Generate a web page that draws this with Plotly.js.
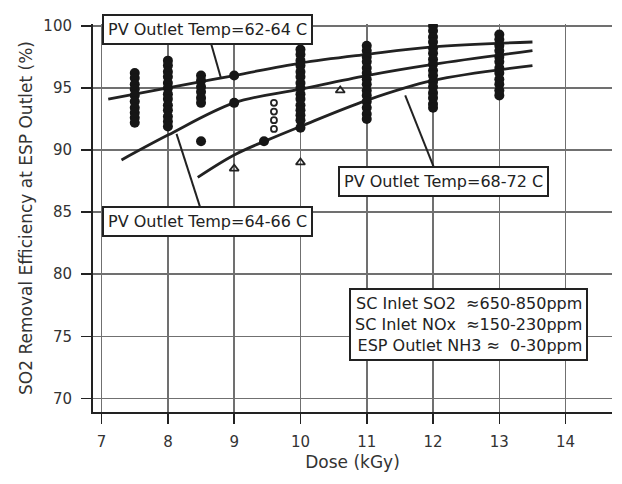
<!DOCTYPE html>
<html>
<head>
<meta charset="utf-8">
<script src="https://cdn.plot.ly/plotly-3.0.1.min.js"></script>
<style>
html,body{margin:0;padding:0;background:#fff;}
#chart{width:622px;height:484px;}
</style>
</head>
<body>
<div id="chart"></div>
<script>
// ---- data ----
// dense measurement clusters (dose kGy, efficiency %)
const cluster75 = [96.2, 95.8, 95.3, 94.9, 94.4, 93.9, 93.4, 93.0, 92.6, 92.2];
const cluster80 = [97.2, 96.8, 96.3, 95.9, 95.4, 95.0, 94.5, 94.1, 93.6, 93.2, 92.7, 92.3, 91.9];
const cluster85 = [96.0, 95.6, 95.1, 94.7, 94.2, 93.8, 90.7];
const cluster90 = [96.0, 93.8];
const cluster945 = [90.7];
const cluster100 = [98.1, 97.7, 97.2, 96.8, 96.3, 95.9, 95.4, 95.0, 94.5, 94.1, 93.6, 93.2, 92.8, 92.4, 91.8];
const cluster110 = [98.4, 98.0, 97.5, 97.1, 96.6, 96.2, 95.7, 95.3, 94.8, 94.4, 93.9, 93.4, 92.9, 92.5];
const cluster120 = [100.0, 99.6, 99.1, 98.7, 98.2, 97.8, 97.3, 96.9, 96.4, 96.0, 95.5, 95.1, 94.6, 94.2, 93.7, 93.4];
const cluster130 = [99.3, 98.9, 98.4, 98.0, 97.5, 97.1, 96.6, 96.2, 95.7, 95.3, 94.8, 94.4];
// small open points around 9.6 kGy
const openDose = [9.6, 9.6, 9.6, 9.6];
const openEff = [93.8, 93.1, 92.4, 91.7];
// open triangles
const triDose = [9.0, 10.0, 10.6];
const triEff = [88.5, 89.0, 94.8];

// fitted curves
const curve1Dose = [7.1, 8, 9, 10, 11, 12, 13.5];
const curve1Eff  = [94.1, 95.0, 96.0, 97.0, 97.7, 98.3, 98.7];
const curve2Dose = [7.3, 8, 9, 10, 11, 12, 13.5];
const curve2Eff  = [89.2, 91.2, 93.8, 94.9, 96.0, 96.9, 98.0];
const curve3Dose = [8.45, 9, 9.5, 10, 11, 12, 13.5];
const curve3Eff  = [87.8, 89.6, 90.8, 91.9, 94.0, 95.6, 96.8];

const curveLabels = ["PV Outlet Temp=62-64 C", "PV Outlet Temp=64-66 C", "PV Outlet Temp=68-72 C"];
const noteLines = ["SC Inlet SO2  ≈650-850ppm", "SC Inlet NOx  ≈150-230ppm", "ESP Outlet NH3 ≈  0-30ppm"];
const xTicks = [7, 8, 9, 10, 11, 12, 13, 14];
const yTicks = [70, 75, 80, 85, 90, 95, 100];

// build scatter arrays from the clusters
const clusters = [[7.5, cluster75], [8, cluster80], [8.5, cluster85], [9, cluster90], [9.45, cluster945],
                  [10, cluster100], [11, cluster110], [12, cluster120], [13, cluster130]];
const ptX = [], ptY = [];
clusters.forEach(([d, arr]) => arr.forEach(v => { ptX.push(d); ptY.push(v); }));

const ink = '#222';
const font = 'DejaVu Sans, Liberation Sans, sans-serif';

const traces = [
  {x: curve1Dose, y: curve1Eff, mode: 'lines', line: {color: ink, width: 2.8, shape: 'spline'}, hoverinfo: 'skip'},
  {x: curve2Dose, y: curve2Eff, mode: 'lines', line: {color: ink, width: 2.8, shape: 'spline'}, hoverinfo: 'skip'},
  {x: curve3Dose, y: curve3Eff, mode: 'lines', line: {color: ink, width: 2.8, shape: 'spline'}, hoverinfo: 'skip'},
  {x: ptX, y: ptY, mode: 'markers', marker: {symbol: 'circle', size: 10, color: '#161616'}},
  {x: openDose, y: openEff, mode: 'markers', marker: {symbol: 'circle-open', size: 6, color: ink, line: {width: 1.8}}},
  {x: triDose, y: triEff, mode: 'markers', marker: {symbol: 'triangle-up-open', size: 8, color: ink, line: {width: 1.8}}}
];

const boxStyle = {showarrow: false, bgcolor: '#fff', bordercolor: ink, borderwidth: 2, borderpad: 4,
                  font: {family: font, size: 16, color: ink}, xref: 'x', yref: 'y'};

const layout = {
  width: 622, height: 484,
  margin: {l: 93, r: 10, t: 24, b: 72},
  paper_bgcolor: '#fff', plot_bgcolor: '#fff',
  showlegend: false,
  xaxis: {
    range: [6.87, 14.7], tickvals: xTicks, ticktext: xTicks.map(String),
    showgrid: true, gridcolor: '#707070', gridwidth: 1.5, zeroline: false,
    showline: true, linecolor: ink, linewidth: 2,
    ticks: 'outside', ticklen: 10, tickwidth: 1.5, tickcolor: ink, ticklabelstandoff: 5,
    tickfont: {family: font, size: 15, color: '#333'},
    title: {text: 'Dose (kGy)', font: {family: font, size: 17, color: '#333'}, standoff: 6}
  },
  yaxis: {
    range: [68.9, 100.15], tickvals: yTicks, ticktext: yTicks.map(String),
    showgrid: true, gridcolor: '#707070', gridwidth: 1.5, zeroline: false,
    showline: true, linecolor: ink, linewidth: 2,
    ticks: 'outside', ticklen: 10, tickwidth: 1.5, tickcolor: ink, ticklabelstandoff: 6,
    tickfont: {family: font, size: 15, color: '#333'},
    title: {text: 'SO2 Removal Efficiency at ESP Outlet (%)', font: {family: font, size: 17, color: '#333'}, standoff: 6}
  },
  annotations: [
    Object.assign({}, boxStyle, {x: 8.6, y: 99.7, text: curveLabels[0]}),
    Object.assign({}, boxStyle, {x: 8.6, y: 84.27, text: curveLabels[1]}),
    Object.assign({}, boxStyle, {x: 12.16, y: 87.5, text: curveLabels[2]}),
    Object.assign({}, boxStyle, {x: 12.54, y: 75.97, text: noteLines.join('<br>'), align: 'right', borderpad: 4})
  ],
  shapes: [
    {type: 'line', xref: 'x', yref: 'y', x0: 8.65, y0: 98.6, x1: 8.8, y1: 95.8, line: {color: ink, width: 2}},
    {type: 'line', xref: 'x', yref: 'y', x0: 8.13, y0: 91.3, x1: 8.51, y1: 85.0, line: {color: ink, width: 2}},
    {type: 'line', xref: 'x', yref: 'y', x0: 11.58, y0: 94.4, x1: 12.02, y1: 88.5, line: {color: ink, width: 2}}
  ]
};

Plotly.newPlot('chart', traces, layout, {displayModeBar: false, staticPlot: true});
</script>
</body>
</html>
